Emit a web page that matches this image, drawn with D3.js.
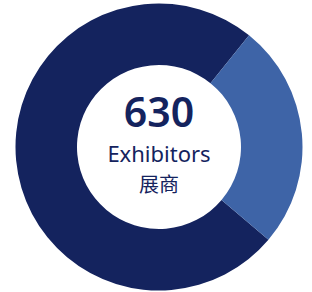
<!DOCTYPE html>
<html>
<head>
<meta charset="utf-8">
<script src="https://cdn.jsdelivr.net/npm/d3@7"></script>
<style>
  html, body { margin: 0; padding: 0; background: #fff; }
  svg { display: block; }
</style>
</head>
<body>
<svg></svg>
<script>
const width = 312;
const height = 292;

// 数据
const segments = ["Local", "Overseas"];
const values = [470, 160];
const colors = ["#14235e", "#3e64a7"];
const total = 630;
const labels = ["Exhibitors", "展商"];

const svg = d3.select("svg").attr("width", width).attr("height", height);

const cx = 159, cy = 147;
const outerR = 143.5, innerR = 82;

const startAngle = 130.3 * Math.PI / 180;

const pie = d3.pie()
    .sort(null)
    .startAngle(startAngle)
    .endAngle(startAngle + 2 * Math.PI);

const arc = d3.arc().innerRadius(innerR).outerRadius(outerR);

const g = svg.append("g").attr("transform", `translate(${cx},${cy})`);

g.selectAll("path")
    .data(pie(values))
    .enter().append("path")
    .attr("d", arc)
    .attr("fill", (d, i) => colors[i]);

// 中间文字
g.append("text")
    .attr("text-anchor", "middle")
    .attr("y", -20)
    .style("font-family", "'Noto Sans', sans-serif")
    .style("font-weight", 600)
    .style("font-size", "41px")
    .style("fill", "#14235e")
    .text(total);

g.append("text")
    .attr("text-anchor", "middle")
    .attr("y", 15)
    .style("font-family", "'Noto Sans', sans-serif")
    .style("font-size", "22px")
    .style("fill", "#14235e")
    .text(labels[0]);

g.append("text")
    .attr("text-anchor", "middle")
    .attr("y", 45)
    .style("font-family", "'Noto Sans CJK SC', sans-serif")
    .style("font-size", "20px")
    .style("fill", "#14235e")
    .text(labels[1]);
</script>
</body>
</html>
